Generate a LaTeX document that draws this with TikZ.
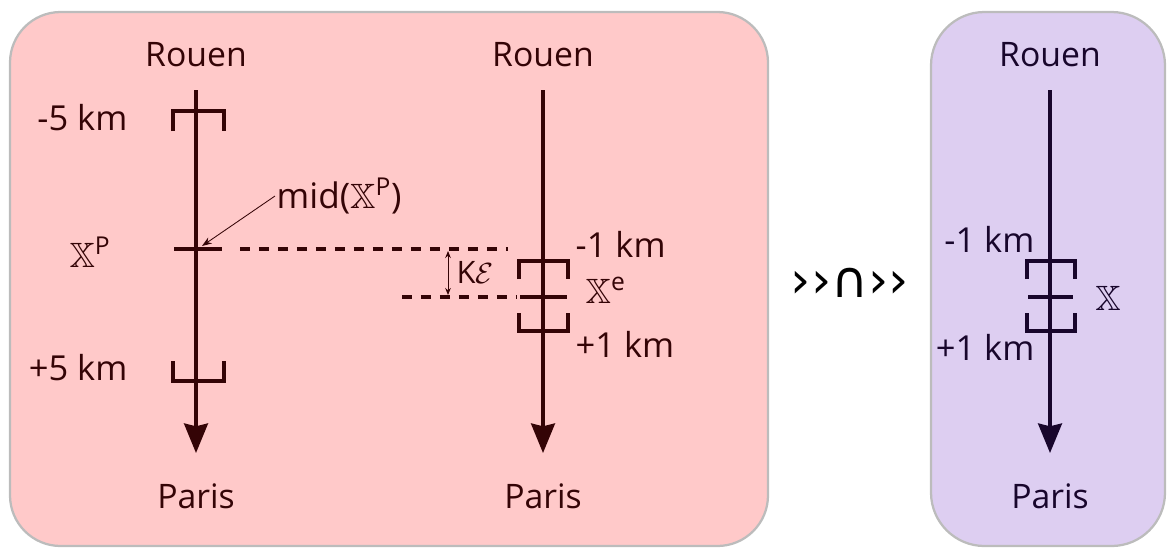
\documentclass[tikz,border=0pt]{standalone}
\usepackage{fontspec}
\usepackage{amsmath,amssymb}
\setmainfont{Open Sans}
\newfontfamily\symbfont{DejaVu Sans}
\usetikzlibrary{arrows.meta,positioning}
\definecolor{roadPink}{RGB}{255,201,201}
\definecolor{roadLilac}{RGB}{221,206,241}
\definecolor{frameGrey}{RGB}{188,188,188}
\definecolor{inkMaroon}{RGB}{52,4,6}
\definecolor{inkPlum}{RGB}{24,6,44}

\begin{document}
\begin{tikzpicture}[x=0.025cm,y=-0.025cm,
  cityText/.style={font=\fontsize{24}{27}\selectfont},
  kmText/.style={font=\fontsize{24.5}{27}\selectfont,inner sep=1pt},
  setText/.style={font=\fontsize{25}{28}\selectfont,inner sep=1pt},
  roadAxis/.style={line width=2.2pt,-{Stealth[length=21pt,width=17pt,inset=2pt]}},
  gateLine/.style={line width=3.2pt},
  levelDash/.style={line width=3pt,dash pattern=on 7pt off 6.5pt},
  thinArrow/.style={line width=.6pt}]
\useasboundingbox (0,0) rectangle (1168,548);
\draw[frameGrey,fill=roadPink,line width=1.6pt,rounded corners=36pt] (10,12) rectangle (768,546);
\draw[frameGrey,fill=roadLilac,line width=1.6pt,rounded corners=38pt] (931,12) rectangle (1165,546);

\begin{scope}[color=inkMaroon,text=inkMaroon]
\node[cityText] (rouenA) at (196,55) {Rouen};
\node[cityText] (parisA) at (196,496) {Paris};
\node[cityText] (rouenB) at (543,55) {Rouen};
\node[cityText] (parisB) at (543,496) {Paris};
\coordinate (topA) at (196,90);
\coordinate (tipA) at (196,453);
\coordinate (topB) at (543,90);
\coordinate (tipB) at (543,453);
\draw[roadAxis] (topA) -- (tipA);
\draw[roadAxis] (topB) -- (tipB);

\draw[gateLine] (173,131) -- (173,111) -- (224,111) -- (224,131);
\draw[gateLine] (173,361) -- (173,381) -- (224,381) -- (224,361);
\draw[gateLine] (174,249) -- (222,249);
\node[kmText,anchor=east] (minusFive) at (129,118) {-5 km};
\node[kmText,anchor=east] (plusFive) at (129,368) {+5 km};
\node[setText] (setP) at (90,252) {$\mathbb{X}^{\text{P}}$};

\node[setText,anchor=west] (midP) at (275,196) {mid($\mathbb{X}^{\text{P}}$)};
\coordinate (midPt) at (202,246);
\draw[thinArrow,-{Stealth[length=7pt,width=5pt]}] (midP.west) -- (midPt);

\draw[gateLine] (519,279) -- (519,261) -- (568,261) -- (568,279);
\draw[gateLine] (519,313) -- (519,331) -- (568,331) -- (568,313);
\draw[gateLine] (520,297) -- (567,297);
\node[kmText,anchor=west] (minusOne) at (574,244) {-1 km};
\node[kmText,anchor=west] (plusOne) at (574,344) {+1 km};
\node[setText,anchor=west] (setE) at (584,290) {$\mathbb{X}^{\text{e}}$};

\coordinate (dashPs) at (240,249);
\coordinate (dashPe) at (508,249);
\coordinate (dashEs) at (402,297);
\coordinate (dashEe) at (516,297);
\draw[levelDash] (dashPs) -- (dashPe);
\draw[levelDash] (dashEs) -- (dashEe);
\coordinate (gapTop) at (448,251);
\coordinate (gapBot) at (448,295);
\draw[thinArrow,{Stealth[length=5pt,width=4pt]}-{Stealth[length=5pt,width=4pt]}] (gapTop) -- (gapBot);
\node[kmText,anchor=west,font=\fontsize{22}{25}\selectfont] (gapLabel) at (455,272) {K$\mathcal{E}$};
\end{scope}

\node[font=\symbfont\fontsize{36}{38}\selectfont] (meetSign) at (850,283) {››∩››};

\begin{scope}[color=inkPlum,text=inkPlum]
\node[cityText] (rouenC) at (1050,55) {Rouen};
\node[cityText] (parisC) at (1050,496) {Paris};
\coordinate (topC) at (1050,90);
\coordinate (tipC) at (1050,453);
\draw[roadAxis] (topC) -- (tipC);
\draw[gateLine] (1027,279) -- (1027,261) -- (1075,261) -- (1075,279);
\draw[gateLine] (1027,313) -- (1027,331) -- (1075,331) -- (1075,313);
\draw[gateLine] (1028,297) -- (1073,297);
\node[kmText,anchor=east] (minusOneC) at (1036,239) {-1 km};
\node[kmText,anchor=east] (plusOneC) at (1036,347) {+1 km};
\node[setText] (setX) at (1108,298) {$\mathbb{X}$};
\end{scope}
\end{tikzpicture}
\end{document}
